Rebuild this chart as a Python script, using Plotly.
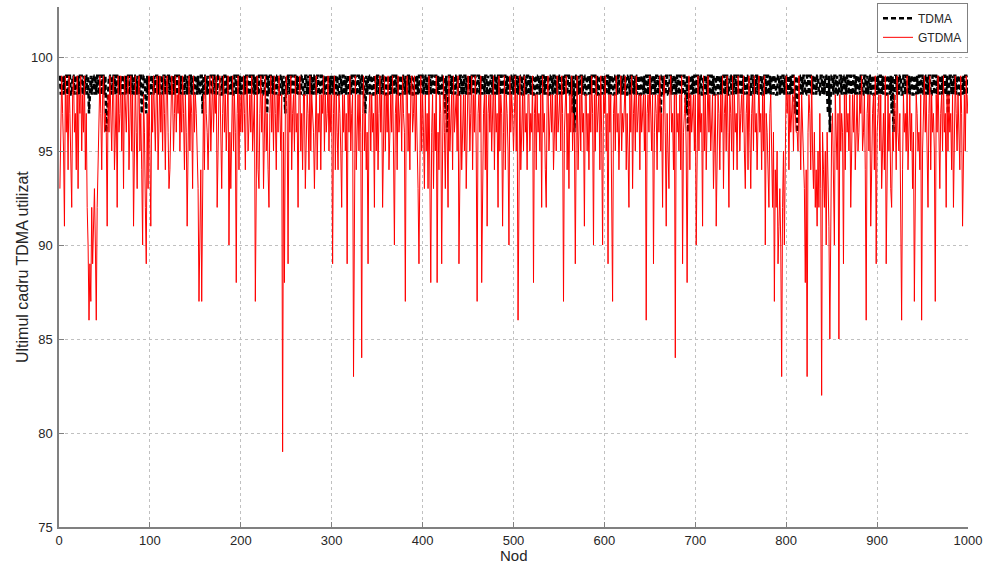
import plotly.graph_objects as go

# Node indices 1..1000
nodes = list(range(1, 1001))

# TDMA: last TDMA frame used (rows of 50 nodes)
tdma = [
 99, 98, 99, 99, 98, 99, 98, 99, 99, 98, 99, 99, 98, 98, 99, 99, 98, 99, 99, 98, 99, 98, 99, 99, 99, 98, 99, 98, 99, 99, 98, 99, 97, 98, 99, 98, 99, 99, 98, 99, 98, 99, 99, 98, 99, 99, 98, 99, 99, 98,
 99, 96, 97, 98, 99, 99, 98, 99, 98, 99, 99, 98, 99, 99, 98, 99, 98, 99, 99, 98, 99, 99, 98, 99, 98, 99, 99, 98, 99, 99, 98, 99, 98, 99, 99, 98, 99, 98, 99, 99, 97, 98, 99, 99, 98, 97, 99, 98, 99, 99,
 98, 99, 99, 98, 99, 98, 99, 99, 98, 99, 98, 99, 99, 98, 99, 99, 98, 99, 98, 99, 99, 98, 99, 99, 98, 99, 98, 99, 99, 98, 99, 99, 98, 99, 98, 99, 99, 98, 99, 99, 98, 99, 98, 99, 99, 98, 99, 99, 98, 99,
 99, 98, 99, 98, 98, 99, 99, 97, 99, 98, 99, 99, 98, 99, 98, 98, 99, 99, 98, 99, 99, 98, 99, 98, 99, 99, 99, 98, 98, 99, 98, 99, 99, 98, 99, 98, 99, 99, 98, 99, 98, 98, 99, 99, 98, 99, 99, 98, 99, 98,
 99, 99, 98, 99, 98, 99, 99, 98, 98, 99, 99, 98, 99, 99, 98, 99, 98, 99, 98, 99, 99, 98, 99, 99, 98, 98, 99, 99, 97, 99, 98, 99, 99, 98, 99, 98, 99, 99, 98, 99, 99, 98, 98, 99, 99, 98, 99, 98, 97, 99,
 98, 99, 99, 98, 99, 99, 98, 98, 99, 99, 98, 99, 98, 99, 99, 98, 99, 99, 98, 98, 99, 99, 98, 99, 98, 99, 99, 98, 99, 98, 99, 99, 98, 99, 99, 98, 98, 99, 99, 98, 99, 98, 99, 99, 98, 99, 99, 98, 99, 98,
 99, 98, 99, 99, 98, 99, 98, 98, 99, 99, 98, 99, 99, 98, 99, 98, 99, 99, 98, 99, 98, 99, 99, 98, 99, 99, 98, 98, 99, 99, 98, 99, 99, 98, 99, 98, 97, 99, 98, 99, 99, 98, 99, 99, 98, 98, 99, 99, 98, 99,
 99, 98, 99, 98, 99, 99, 98, 99, 99, 98, 98, 99, 99, 98, 99, 98, 99, 99, 98, 99, 99, 98, 99, 98, 98, 99, 99, 98, 99, 99, 98, 99, 98, 99, 99, 98, 99, 99, 98, 98, 99, 99, 98, 99, 98, 99, 99, 98, 99, 99,
 98, 99, 99, 98, 99, 98, 99, 99, 98, 99, 99, 98, 98, 99, 99, 98, 99, 98, 99, 99, 98, 99, 99, 98, 97, 99, 96, 98, 99, 99, 98, 99, 98, 99, 99, 98, 99, 99, 98, 98, 99, 99, 98, 99, 98, 99, 99, 98, 99, 99,
 98, 99, 98, 99, 99, 98, 99, 99, 98, 98, 99, 99, 98, 99, 98, 99, 99, 98, 99, 99, 98, 99, 98, 98, 99, 99, 98, 99, 99, 98, 99, 98, 99, 99, 98, 99, 99, 98, 98, 99, 99, 98, 99, 98, 99, 99, 98, 99, 99, 98,
 99, 99, 98, 99, 98, 99, 99, 98, 99, 98, 98, 99, 99, 98, 99, 99, 98, 99, 98, 99, 99, 98, 98, 99, 99, 98, 99, 99, 98, 99, 98, 99, 99, 98, 99, 98, 99, 99, 98, 98, 99, 99, 98, 99, 99, 98, 99, 98, 99, 99,
 98, 99, 99, 98, 99, 98, 99, 99, 98, 99, 99, 98, 98, 99, 97, 99, 96, 98, 99, 99, 98, 99, 98, 99, 99, 98, 99, 99, 98, 98, 99, 99, 98, 99, 98, 99, 99, 98, 99, 99, 98, 99, 98, 98, 99, 99, 98, 99, 99, 98,
 99, 98, 99, 99, 98, 99, 98, 99, 99, 98, 98, 99, 99, 98, 99, 99, 98, 99, 98, 99, 99, 98, 99, 98, 98, 99, 99, 98, 99, 99, 98, 99, 98, 99, 99, 98, 99, 99, 98, 98, 99, 99, 98, 99, 98, 99, 99, 98, 99, 99,
 98, 99, 99, 98, 99, 98, 99, 99, 98, 99, 98, 97, 99, 99, 98, 99, 98, 99, 99, 98, 98, 99, 99, 98, 99, 99, 98, 99, 98, 99, 99, 98, 99, 99, 98, 98, 99, 99, 98, 97, 99, 96, 98, 99, 99, 98, 99, 98, 99, 99,
 98, 99, 99, 98, 99, 99, 98, 98, 99, 99, 98, 99, 98, 99, 99, 98, 99, 99, 98, 99, 98, 98, 99, 99, 98, 99, 99, 98, 99, 98, 99, 99, 98, 99, 99, 98, 98, 99, 99, 98, 99, 98, 99, 99, 98, 99, 99, 98, 98, 99,
 99, 98, 99, 98, 99, 99, 98, 99, 99, 98, 98, 99, 99, 98, 99, 98, 99, 99, 98, 99, 99, 98, 99, 98, 98, 99, 99, 98, 99, 99, 98, 99, 98, 99, 99, 98, 99, 99, 98, 98, 99, 99, 98, 99, 98, 99, 99, 98, 99, 99,
 98, 99, 99, 98, 99, 98, 99, 99, 98, 97, 99, 96, 98, 99, 99, 98, 99, 98, 99, 99, 98, 98, 99, 99, 98, 99, 99, 98, 99, 98, 99, 99, 98, 99, 99, 98, 98, 99, 99, 98, 99, 98, 99, 99, 98, 97, 99, 96, 98, 99,
 99, 98, 99, 99, 98, 99, 98, 98, 99, 99, 98, 99, 99, 98, 99, 98, 99, 99, 98, 99, 99, 98, 98, 99, 99, 98, 99, 98, 99, 99, 98, 99, 99, 98, 98, 99, 99, 98, 99, 98, 99, 99, 98, 99, 99, 98, 98, 99, 99, 98,
 99, 98, 99, 99, 98, 99, 98, 99, 99, 98, 98, 99, 99, 98, 99, 97, 99, 96, 98, 99, 99, 98, 99, 98, 99, 99, 98, 98, 99, 99, 98, 99, 99, 98, 99, 98, 99, 99, 98, 98, 99, 99, 98, 99, 98, 99, 99, 98, 99, 99,
 98, 99, 99, 98, 99, 98, 99, 99, 98, 98, 99, 99, 98, 99, 99, 98, 99, 98, 99, 99, 98, 99, 98, 99, 99, 98, 99, 97, 98, 99, 99, 98, 99, 98, 99, 99, 98, 99, 99, 98, 98, 99, 99, 98, 99, 98, 99, 99, 98, 99,
]

# GTDMA: last TDMA frame used (rows of 50 nodes)
gtdma = [
 93, 98, 99, 97, 95, 91, 99, 96, 98, 94, 99, 97, 95, 92, 98, 99, 96, 97, 94, 99, 93, 98, 97, 99, 95, 98, 96, 99, 94, 97, 92, 90, 86, 89, 87, 92, 89, 91, 93, 90, 86, 92, 95, 98, 99, 97, 94, 98, 99, 96,
 97, 96, 91, 98, 96, 99, 97, 95, 98, 99, 94, 97, 98, 92, 99, 96, 97, 99, 95, 98, 93, 99, 97, 96, 98, 99, 94, 97, 99, 95, 98, 91, 97, 99, 96, 93, 98, 99, 95, 97, 94, 90, 98, 96, 92, 89, 97, 93, 99, 95,
 91, 98, 96, 99, 97, 95, 98, 99, 94, 97, 99, 96, 98, 95, 99, 97, 94, 98, 99, 96, 93, 94, 97, 99, 98, 95, 97, 99, 96, 98, 97, 99, 95, 98, 96, 99, 97, 94, 98, 96, 91, 97, 99, 95, 98, 97, 93, 99, 96, 98,
 97, 95, 93, 87, 92, 94, 87, 96, 98, 94, 99, 97, 96, 94, 98, 99, 95, 97, 99, 96, 98, 97, 99, 92, 96, 98, 99, 95, 93, 97, 99, 96, 98, 95, 97, 99, 90, 96, 93, 97, 99, 95, 98, 96, 88, 97, 99, 94, 98, 96,
 98, 96, 99, 97, 94, 98, 99, 95, 97, 98, 96, 99, 95, 97, 98, 87, 96, 99, 94, 93, 97, 99, 96, 98, 93, 97, 99, 95, 97, 94, 92, 97, 99, 96, 98, 95, 99, 97, 94, 98, 96, 99, 97, 95, 98, 79, 96, 88, 97, 99,
 97, 89, 98, 96, 99, 94, 97, 98, 95, 99, 96, 97, 92, 98, 99, 95, 97, 94, 98, 98, 93, 96, 98, 97, 94, 99, 95, 98, 97, 96, 93, 98, 99, 94, 97, 96, 98, 94, 98, 97, 99, 95, 98, 96, 97, 99, 95, 98, 96, 98,
 89, 97, 99, 94, 98, 96, 94, 98, 97, 95, 92, 98, 96, 98, 95, 97, 89, 98, 96, 99, 95, 97, 98, 83, 96, 99, 94, 97, 98, 95, 98, 96, 84, 97, 99, 95, 97, 94, 96, 89, 97, 98, 95, 98, 96, 97, 92, 99, 95, 98,
 94, 97, 99, 96, 98, 92, 97, 99, 95, 98, 96, 99, 94, 97, 98, 96, 99, 95, 90, 97, 98, 94, 99, 96, 97, 98, 95, 99, 97, 96, 87, 98, 99, 95, 97, 94, 98, 99, 96, 97, 99, 95, 98, 96, 93, 89, 97, 99, 95, 98,
 96, 93, 98, 95, 97, 93, 99, 94, 88, 96, 98, 93, 97, 95, 99, 88, 96, 94, 98, 97, 89, 95, 99, 96, 93, 98, 96, 92, 99, 95, 97, 98, 94, 99, 96, 97, 98, 95, 99, 89, 96, 98, 94, 97, 98, 95, 98, 93, 97, 99,
 98, 95, 97, 99, 94, 98, 96, 99, 95, 87, 97, 98, 96, 99, 88, 95, 97, 98, 94, 98, 91, 97, 98, 96, 98, 95, 97, 99, 94, 98, 96, 97, 92, 99, 95, 98, 97, 91, 96, 99, 94, 98, 97, 95, 90, 99, 96, 98, 97, 95,
 97, 99, 95, 98, 86, 96, 99, 94, 97, 98, 95, 99, 96, 97, 94, 98, 98, 95, 97, 96, 99, 88, 97, 98, 94, 98, 96, 97, 95, 98, 92, 99, 96, 97, 94, 92, 98, 99, 95, 97, 98, 96, 98, 94, 97, 98, 95, 99, 96, 97,
 98, 95, 99, 97, 87, 96, 98, 99, 94, 97, 93, 98, 96, 99, 95, 97, 96, 89, 96, 99, 94, 97, 98, 95, 99, 96, 97, 91, 98, 98, 95, 97, 94, 98, 96, 99, 97, 90, 98, 95, 99, 96, 97, 98, 94, 99, 96, 90, 98, 97,
 99, 95, 97, 89, 98, 96, 98, 94, 87, 97, 98, 95, 99, 96, 97, 94, 98, 99, 95, 97, 96, 98, 99, 94, 97, 95, 92, 98, 96, 99, 93, 97, 98, 95, 99, 96, 97, 98, 94, 98, 96, 97, 98, 95, 98, 86, 97, 98, 96, 99,
 97, 95, 98, 89, 96, 98, 97, 94, 98, 96, 99, 95, 97, 92, 98, 99, 96, 91, 97, 95, 93, 98, 99, 96, 97, 94, 98, 84, 98, 96, 97, 95, 98, 94, 99, 89, 96, 97, 98, 95, 88, 96, 99, 94, 98, 96, 97, 98, 95, 98,
 90, 97, 99, 95, 98, 96, 97, 91, 99, 95, 98, 94, 97, 99, 96, 98, 95, 97, 98, 93, 96, 98, 91, 95, 98, 97, 94, 98, 96, 99, 93, 97, 98, 95, 99, 96, 92, 98, 97, 95, 99, 94, 98, 96, 97, 94, 99, 98, 95, 97,
 98, 96, 99, 95, 93, 97, 98, 94, 99, 96, 93, 97, 98, 95, 99, 96, 97, 94, 98, 99, 96, 97, 94, 98, 95, 99, 90, 97, 96, 94, 92, 97, 98, 95, 92, 96, 87, 94, 92, 95, 89, 91, 93, 90, 83, 92, 95, 90, 97, 99,
 97, 98, 94, 98, 96, 97, 98, 95, 99, 97, 96, 96, 95, 99, 97, 94, 98, 96, 95, 93, 88, 94, 83, 96, 98, 97, 94, 99, 95, 93, 96, 92, 94, 91, 95, 92, 97, 93, 82, 96, 94, 92, 95, 90, 96, 93, 91, 85, 94, 96,
 97, 93, 90, 98, 96, 94, 97, 85, 98, 95, 97, 96, 89, 98, 94, 98, 96, 97, 95, 98, 92, 97, 98, 96, 98, 94, 97, 98, 95, 96, 98, 97, 99, 95, 96, 98, 94, 86, 97, 98, 95, 98, 91, 96, 97, 98, 94, 99, 89, 96,
 97, 98, 95, 98, 93, 96, 97, 94, 99, 89, 96, 98, 95, 97, 93, 92, 96, 95, 98, 97, 94, 99, 96, 95, 97, 93, 86, 94, 98, 96, 97, 95, 99, 94, 96, 98, 95, 97, 93, 96, 87, 94, 98, 97, 95, 96, 94, 98, 86, 95,
 97, 99, 96, 98, 95, 92, 97, 99, 94, 98, 96, 97, 95, 87, 98, 96, 99, 94, 93, 97, 98, 95, 99, 96, 97, 92, 98, 95, 98, 96, 97, 94, 98, 92, 96, 99, 97, 95, 98, 96, 94, 99, 97, 91, 96, 98, 95, 99, 97, 98,
]

y_ticks = [75, 80, 85, 90, 95, 100]
x_ticks = [0, 100, 200, 300, 400, 500, 600, 700, 800, 900, 1000]

fig = go.Figure()
fig.add_trace(go.Scatter(
    x=nodes, y=tdma, mode="lines", name="TDMA",
    line=dict(color="black", width=2.5, dash="5px,3px"),
))
fig.add_trace(go.Scatter(
    x=nodes, y=gtdma, mode="lines", name="GTDMA",
    line=dict(color="#ff0000", width=1),
))

axis_common = dict(
    automargin=False,
    showline=True, linecolor="#808080", linewidth=1.5,
    ticks="inside", ticklen=5, tickcolor="#808080",
    showgrid=True, gridcolor="#c0c0c0", griddash="dot", gridwidth=1,
    zeroline=False, mirror=False,
    tickfont=dict(family="Liberation Sans, Arial", size=13, color="#262626"),
)

fig.update_layout(
    width=987, height=565,
    margin=dict(l=59, r=19, t=7, b=38, autoexpand=False),
    paper_bgcolor="white", plot_bgcolor="white",
    font=dict(family="Liberation Sans, Arial", color="#262626"),
    xaxis=dict(range=[0, 1000], tickvals=x_ticks, ticklabelstandoff=1, **axis_common),
    yaxis=dict(range=[75, 102.66], tickvals=y_ticks, ticklabelstandoff=2, **axis_common),
    legend=dict(x=1, y=1.008, xanchor="right", yanchor="top",
                bgcolor="white", bordercolor="#808080", borderwidth=1,
                font=dict(size=12, color="#262626"),
                tracegroupgap=0, itemwidth=30),
    showlegend=True,
    annotations=[
        dict(text="Nod", xref="paper", yref="paper", x=0.5, y=-0.054,
             xanchor="center", yanchor="middle", showarrow=False,
             font=dict(size=15, color="#262626")),
        dict(text="Ultimul cadru TDMA utilizat", xref="paper", yref="paper",
             x=-0.0407, y=0.5, xanchor="center", yanchor="middle", textangle=-90,
             showarrow=False, font=dict(size=16, color="#262626")),
    ],
)

fig.write_html("out.html",
               config={"displayModeBar": False},
               post_script="document.body.style.margin='0';document.body.style.padding='0';")
